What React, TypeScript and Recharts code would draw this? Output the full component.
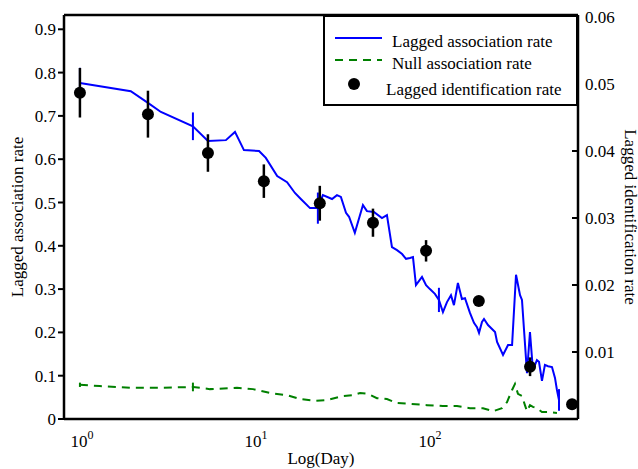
import { ComposedChart, Line, Scatter, XAxis, YAxis, ErrorBar, ReferenceLine } from 'recharts';

// lagged association rate (left axis)
const assocDays = [1, 1.96, 2.46, 2.92, 4.46, 5.44, 6.9, 7.78, 8.76, 10.7, 11.7, 13.6, 15.5, 17.2, 18.6, 21.0, 23.3, 24.9, 28.1, 30.0, 31.6, 33.8, 35.2, 38.0, 42.3, 44.6, 48.9, 54.4, 58.1, 62.1, 66.4, 71.0, 74.8, 78.8, 82.0, 85.3, 92.4, 97.5, 102.6, 109.6, 115.6, 121.9, 128.6, 135.6, 141.0, 148.6, 156.7, 163.2, 174.3, 183.8, 191.3, 196.5, 204.4, 209.9, 221.3, 242.9, 249.5, 270.0, 288.5, 304.3, 320.6, 338.1, 346.9, 356.4, 370.7, 385.6, 401.0, 422.7, 434.5, 451.9, 470.0, 489.5, 516.0, 536.9, 551.1, 566.2];
const assocRate = [0.776, 0.757, 0.73, 0.709, 0.676, 0.642, 0.644, 0.663, 0.621, 0.619, 0.603, 0.561, 0.547, 0.522, 0.508, 0.487, 0.487, 0.517, 0.508, 0.517, 0.513, 0.476, 0.467, 0.43, 0.494, 0.48, 0.478, 0.464, 0.471, 0.397, 0.39, 0.381, 0.37, 0.372, 0.374, 0.309, 0.328, 0.309, 0.3, 0.289, 0.275, 0.247, 0.27, 0.286, 0.263, 0.314, 0.277, 0.279, 0.245, 0.222, 0.212, 0.199, 0.224, 0.231, 0.217, 0.201, 0.178, 0.148, 0.171, 0.171, 0.333, 0.286, 0.275, 0.206, 0.106, 0.201, 0.113, 0.136, 0.132, 0.088, 0.125, 0.122, 0.12, 0.095, 0.067, 0.044];
const assocErrDays = [1, 4.46, 23.3, 115.6, 566.2];
const assocErrSize = [0.035, 0.032, 0.036, 0.028, 0.025];

// null association rate (left axis)
const nullDays = [1, 1.3, 1.94, 2.88, 4.46, 5.59, 7.99, 9.87, 12.4, 15.5, 18.4, 22.4, 26.3, 32.5, 37.0, 40.7, 45.2, 50.9, 58.1, 66.4, 78.8, 98.7, 121.9, 146.8, 174.3, 207.0, 236.6, 266.2, 284.6, 304.3, 316.2, 328.9, 346.9, 360.7, 370.7, 385.6, 401.0, 422.7, 451.9, 489.5, 551.1];
const nullRate = [0.079, 0.076, 0.072, 0.072, 0.074, 0.069, 0.072, 0.069, 0.06, 0.055, 0.046, 0.042, 0.044, 0.053, 0.055, 0.06, 0.058, 0.048, 0.046, 0.037, 0.035, 0.032, 0.03, 0.03, 0.025, 0.025, 0.018, 0.025, 0.039, 0.067, 0.081, 0.058, 0.053, 0.032, 0.018, 0.032, 0.028, 0.025, 0.016, 0.016, 0.014];
const nullErrDays = [1, 4.46];
const nullErrSize = [0.005, 0.01];

// lagged identification rate (right axis)
const identDays = [1, 2.46, 5.44, 11.4, 23.9, 48.3, 97.5, 196, 386, 673];
const identRate = [0.0487, 0.0455, 0.0397, 0.0355, 0.0322, 0.0293, 0.0251, 0.0176, 0.0078, 0.0022];
const identErr = [0.0037, 0.0035, 0.0028, 0.0025, 0.0026, 0.0021, 0.0016, 0.0007, 0.0014, 0.0004];

const leftTicks = [0, 0.1, 0.2, 0.3, 0.4, 0.5, 0.6, 0.7, 0.8, 0.9];
const rightTicks = [0.01, 0.02, 0.03, 0.04, 0.05, 0.06];
const dayTicks = [1, 10, 100];

const withErr = (days: number[], vals: number[], errDays: number[], errSize: number[]) =>
  days.map((d, i) => {
    const k = errDays.indexOf(d);
    return { day: d, rate: vals[i], err: k >= 0 ? errSize[k] : undefined };
  });

const assocData = withErr(assocDays, assocRate, assocErrDays, assocErrSize);
const nullData = withErr(nullDays, nullRate, nullErrDays, nullErrSize);
const identData = identDays.map((d, i) => ({ day: d, ident: identRate[i], err: identErr[i] }));

const FONT = '"Liberation Serif", "Times New Roman", serif';

const XTick = ({ x, y, payload }: any) => (
  <text x={x + 2} y={y + 20} textAnchor="middle" fontSize={17} fontFamily={FONT} fill="#000">
    <tspan>10</tspan>
    <tspan dy={-8} fontSize={12}>{Math.round(Math.log10(payload.value))}</tspan>
  </text>
);

const RightTick = ({ x, y, payload }: any) => (
  <g>
    <line x1={x - 13} x2={x - 7} y1={y} y2={y} stroke="#000" strokeWidth={2} />
    <text x={x} y={y} dy="0.35em" fontSize={17} fontFamily={FONT} fill="#000">{payload.value}</text>
  </g>
);

const Title = ({ viewBox, text, dx, dy, angle }: any) => {
  const cx = viewBox.x + dx;
  const cy = viewBox.y + dy;
  return (
    <text x={cx} y={cy} transform={`rotate(${angle} ${cx} ${cy})`} textAnchor="middle" dominantBaseline="central" fontSize={17} fontFamily={FONT} fill="#000">
      {text}
    </text>
  );
};

const Dot = ({ cx, cy }: any) => <circle cx={cx} cy={cy} r={6} fill="#000" />;

const LegendBox = () => (
  <div style={{ position: 'absolute', left: 323, top: 15, width: 255, height: 91, border: '2px solid #000', boxSizing: 'border-box', background: '#fff' }}>
    <svg width={251} height={87} style={{ position: 'absolute', left: 0, top: 0 }} fontFamily={FONT}>
      <line x1={10} x2={57} y1={21} y2={21} stroke="#0000ff" strokeWidth={2} />
      <text x={67} y={24} dominantBaseline="central" fontSize={17}>Lagged association rate</text>
      <line x1={10} x2={57} y1={43} y2={43} stroke="#008000" strokeWidth={2} strokeDasharray="8 6" />
      <text x={67} y={46} dominantBaseline="central" fontSize={17}>Null association rate</text>
      <circle cx={29} cy={67} r={6} fill="#000" />
      <text x={61} y={72} dominantBaseline="central" fontSize={17}>Lagged identification rate</text>
    </svg>
  </div>
);

const App = () => {
  return (
    <div style={{ position: 'absolute', left: 0, top: 0, width: 638, height: 469, fontFamily: FONT, background: '#fff' }}>
      <ComposedChart width={638} height={469} margin={{ top: 15, right: 0, bottom: 0, left: 0 }} style={{ fontFamily: FONT }}>
        <XAxis
          dataKey="day"
          type="number"
          scale="log"
          domain={[0.81, 728]}
          allowDataOverflow
          ticks={dayTicks}
          tick={<XTick />}
          tickLine={false}
          height={50}
          axisLine={{ stroke: '#000', strokeWidth: 2.5 }}
          label={{ content: (p: any) => <Title viewBox={p.viewBox} text="Log(Day)" dx={p.viewBox.width / 2} dy={39} angle={0} /> }}
        />
        <YAxis
          yAxisId="left"
          domain={[0, 0.933]}
          ticks={leftTicks}
          width={64}
          tickSize={6}
          tick={{ fill: '#000', fontSize: 17, fontFamily: FONT }}
          tickLine={{ stroke: '#000', strokeWidth: 2 }}
          axisLine={{ stroke: '#000', strokeWidth: 2.5 }}
          label={{ content: (p: any) => <Title viewBox={p.viewBox} text="Lagged association rate" dx={17} dy={p.viewBox.height / 2} angle={-90} /> }}
        />
        <YAxis
          yAxisId="right"
          orientation="right"
          domain={[0, 0.0603]}
          ticks={rightTicks}
          width={60}
          tickSize={5}
          tickLine={false}
          tick={<RightTick />}
          axisLine={{ stroke: '#000', strokeWidth: 2.5 }}
          label={{ content: (p: any) => <Title viewBox={p.viewBox} text="Lagged identification rate" dx={52} dy={p.viewBox.height / 2} angle={90} /> }}
        />
        <ReferenceLine yAxisId="left" y={0.933} stroke="#000" strokeWidth={2.5} />
        <Line yAxisId="left" data={nullData} dataKey="rate" stroke="#008000" strokeWidth={2} strokeDasharray="8 6" dot={false} isAnimationActive={false}>
          <ErrorBar dataKey="err" direction="y" width={0} stroke="#008000" strokeWidth={2} />
        </Line>
        <Line yAxisId="left" data={assocData} dataKey="rate" stroke="#0000ff" strokeWidth={2} dot={false} isAnimationActive={false}>
          <ErrorBar dataKey="err" direction="y" width={0} stroke="#0000ff" strokeWidth={2} />
        </Line>
        <Scatter yAxisId="right" data={identData} dataKey="ident" shape={<Dot />} isAnimationActive={false}>
          <ErrorBar dataKey="err" direction="y" width={0} stroke="#000" strokeWidth={2.5} />
        </Scatter>
      </ComposedChart>
      <LegendBox />
    </div>
  );
};

export default App;
